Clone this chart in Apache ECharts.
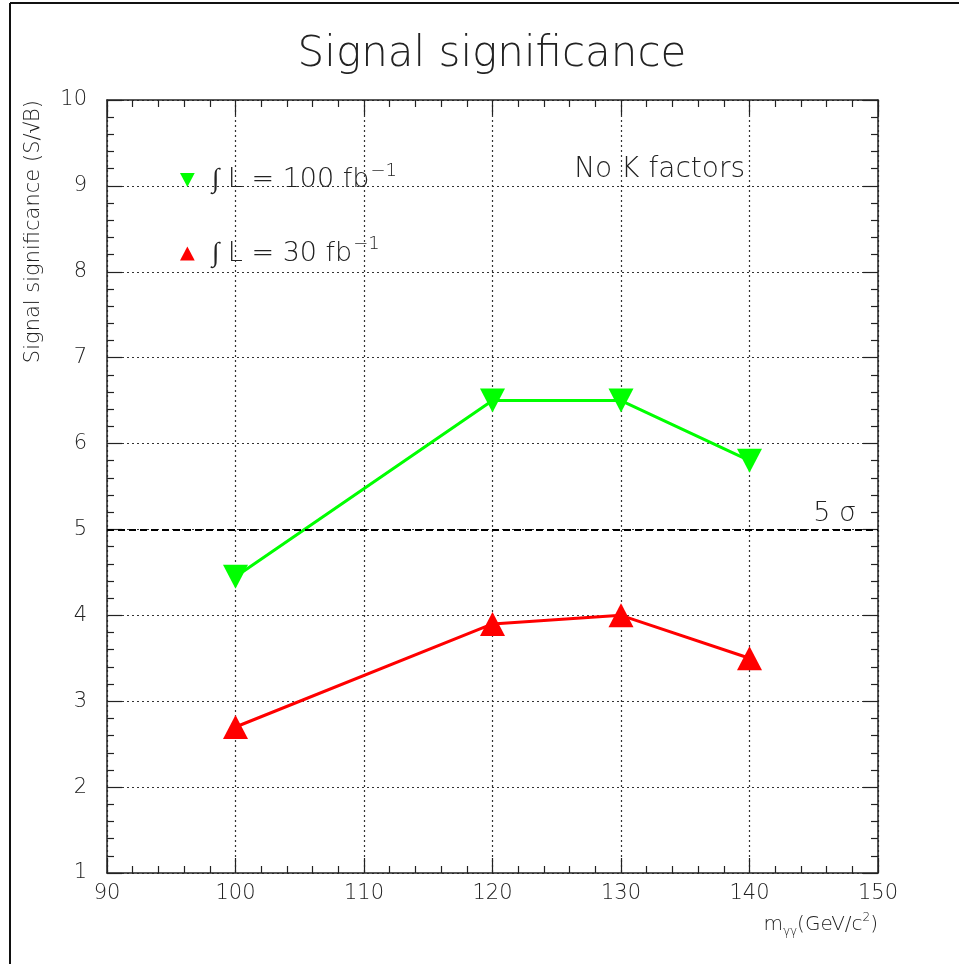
<!DOCTYPE html>
<html>
<head>
<meta charset="utf-8">
<script src="https://cdn.jsdelivr.net/npm/echarts@6/dist/echarts.min.js"></script>
<style>
  html, body { margin: 0; padding: 0; background: #fff; }
  #chart { width: 959px; height: 964px; }
</style>
</head>
<body>
<div id="chart"></div>
<script>
// Higgs -> gamma gamma significance versus mass, two integrated luminosities
const massPoints = [100, 120, 130, 140];
const signif100fb = [4.45, 6.5, 6.5, 5.8];
const signif30fb = [2.7, 3.9, 4.0, 3.5];
const discoveryLevel = 5;
const xRange = [90, 150];
const yRange = [1, 10];

const FONT = 'DejaVu Sans';
const LIGHT = 200;
const INK = '#222';

const chart = echarts.init(document.getElementById('chart'), null, { renderer: 'canvas' });

function pairs(xs, ys) { return xs.map((x, i) => [x, ys[i]]); }

const downTriangle = 'path://M0,0 L20,0 L10,19 Z';
const upTriangle = 'path://M10,0 L20,19 L0,19 Z';

const axisCommon = {
  type: 'value',
  axisLine: { show: true, lineStyle: { color: INK, width: 1.5 } },
  axisTick: { show: true, inside: true, length: 15, lineStyle: { color: INK, width: 1.2 } },
  minorTick: { show: true, splitNumber: 5, length: 7, lineStyle: { color: INK, width: 1.2 } },
};

const gridLine = { show: true, lineStyle: { color: '#333', type: [2, 3], width: 1.2 } };

const option = {
  backgroundColor: '#fff',
  animation: false,
  grid: { left: 107, right: 81, top: 100, bottom: 91, containLabel: false },
  legend: {
    orient: 'vertical',
    left: 175,
    top: 157,
    itemWidth: 15,
    itemHeight: 14,
    itemGap: 42,
    data: [
      { name: 'L100', icon: downTriangle },
      { name: 'L30', icon: upTriangle },
    ],
    formatter: function (name) {
      return name === 'L100' ? '{t|∫ L = 100 fb}{s|−1}' : '{t|∫ L = 30 fb}{s|−1}';
    },
    textStyle: {
      rich: {
        t: { fontFamily: FONT, fontWeight: LIGHT, fontSize: 27, color: INK, lineHeight: 36, padding: [0, 0, 0, 12] },
        s: { fontFamily: FONT, fontWeight: LIGHT, fontSize: 18, color: INK, lineHeight: 36, verticalAlign: 'top', padding: [0, 0, 0, 1] },
      },
    },
  },
  xAxis: [
    Object.assign({}, axisCommon, {
      min: xRange[0], max: xRange[1], interval: 10, position: 'bottom',
      axisLabel: { show: true, fontFamily: FONT, fontWeight: LIGHT, fontSize: 21, color: INK, margin: 10 },
      splitLine: gridLine,
    }),
    Object.assign({}, axisCommon, {
      min: xRange[0], max: xRange[1], interval: 10, position: 'top',
      axisLabel: { show: false }, splitLine: { show: false },
    }),
  ],
  yAxis: [
    Object.assign({}, axisCommon, {
      min: yRange[0], max: yRange[1], interval: 1, position: 'left',
      axisLabel: { show: true, fontFamily: FONT, fontWeight: LIGHT, fontSize: 21, color: INK, margin: 20 },
      splitLine: gridLine,
    }),
    Object.assign({}, axisCommon, {
      min: yRange[0], max: yRange[1], interval: 1, position: 'right',
      axisLabel: { show: false }, splitLine: { show: false },
    }),
  ],
  series: [
    {
      name: 'L100',
      type: 'line',
      data: pairs(massPoints, signif100fb),
      color: '#00ff00',
      lineStyle: { color: '#00ff00', width: 3 },
      symbol: downTriangle,
      symbolSize: [25, 24],
      itemStyle: { color: '#00ff00' },
      z: 4,
    },
    {
      name: 'L30',
      type: 'line',
      data: pairs(massPoints, signif30fb),
      color: '#ff0000',
      lineStyle: { color: '#ff0000', width: 3 },
      symbol: upTriangle,
      symbolSize: [25, 24],
      itemStyle: { color: '#ff0000' },
      z: 4,
    },
    {
      name: 'fiveSigma',
      type: 'line',
      data: [],
      markLine: {
        silent: true,
        symbol: ['none', 'none'],
        lineStyle: { color: '#000', type: [7, 4], width: 2 },
        label: {
          show: true,
          position: 'insideEndTop',
          distance: [22, 2],
          formatter: '5 σ',
          fontFamily: FONT, fontWeight: LIGHT, fontSize: 27, color: INK,
        },
        data: [{ yAxis: discoveryLevel }],
      },
    },
  ],
  graphic: [
    { type: 'line', shape: { x1: 10, y1: 3, x2: 959, y2: 3 }, style: { stroke: '#111', lineWidth: 2 } },
    { type: 'line', shape: { x1: 10, y1: 3, x2: 10, y2: 964 }, style: { stroke: '#111', lineWidth: 2 } },
    {
      type: 'text', x: 492, y: 55,
      style: { text: 'Signal significance', fontFamily: FONT, fontWeight: LIGHT, fontSize: 42, fill: INK, textAlign: 'center', textVerticalAlign: 'middle' },
    },
    {
      type: 'text', x: 34, y: 100, rotation: Math.PI / 2,
      style: { text: 'Signal significance (S/√B)', fontFamily: FONT, fontWeight: LIGHT, fontSize: 21, fill: INK, textAlign: 'right', textVerticalAlign: 'middle' },
    },
    {
      type: 'text', x: 745, y: 170,
      style: { text: 'No K factors', fontFamily: FONT, fontWeight: LIGHT, fontSize: 28, fill: INK, textAlign: 'right', textVerticalAlign: 'middle' },
    },
    {
      type: 'text', x: 878, y: 925,
      style: {
        text: '{m|m}{g|γγ}{m|(GeV/c}{p|2}{m|)}',
        textAlign: 'right', textVerticalAlign: 'middle',
        rich: {
          m: { fontFamily: FONT, fontWeight: LIGHT, fontSize: 20, fill: INK, lineHeight: 26 },
          g: { fontFamily: FONT, fontWeight: LIGHT, fontSize: 12, fill: INK, lineHeight: 26, verticalAlign: 'bottom' },
          p: { fontFamily: FONT, fontWeight: LIGHT, fontSize: 12, fill: INK, lineHeight: 26, verticalAlign: 'top' },
        },
      },
    },
  ],
};

chart.setOption(option);
</script>
</body>
</html>
